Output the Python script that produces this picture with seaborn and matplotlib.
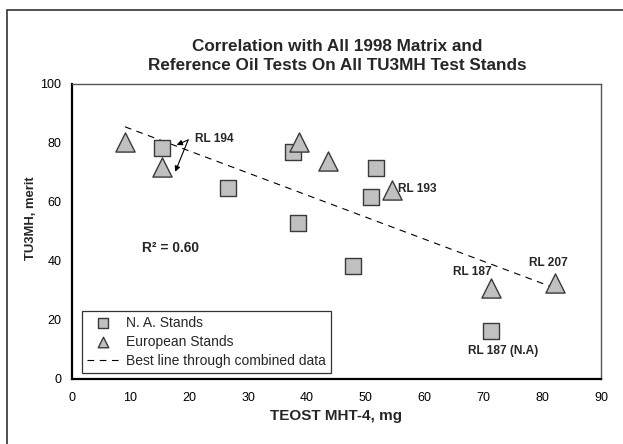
import matplotlib
matplotlib.use("Agg")
import matplotlib.pyplot as plt
import seaborn as sns
import pandas as pd
from matplotlib.patches import Rectangle

# Data
na_x = [15.3, 26.6, 37.7, 38.5, 47.9, 51.75, 50.85, 71.26]
na_y = [78.2, 64.6, 76.8, 52.7, 38.2, 71.4, 61.5, 16.2]
eu_x = [9.06, 15.4, 38.7, 43.6, 54.5, 71.26, 82.1]
eu_y = [80.4, 71.9, 80.2, 74.0, 64.0, 30.8, 32.5]

x_ticks = [0, 10, 20, 30, 40, 50, 60, 70, 80, 90]
y_ticks = [0, 20, 40, 60, 80, 100]

title = "Correlation with All 1998 Matrix and\nReference Oil Tests On All TU3MH Test Stands"
x_label = "TEOST MHT-4, mg"
y_label = "TU3MH, merit"

sns.set_style("white")
plt.rcParams['font.family'] = ['Liberation Sans', 'DejaVu Sans']

df = pd.DataFrame({
    "x": na_x + eu_x,
    "y": na_y + eu_y,
    "group": ["N. A. Stands"] * len(na_x) + ["European Stands"] * len(eu_x),
})

fig = plt.figure(figsize=(6.23, 4.44), dpi=100)
ax = fig.add_axes([71.7 / 623, 1 - 378.5 / 444, (601 - 71.7) / 623, (378.5 - 84) / 444])

fill = "#c0c0c0"
edge = "#3a3a3a"
sns.scatterplot(data=df[df.group == "N. A. Stands"], x="x", y="y", marker="s", s=145,
                color=fill, edgecolor=edge, linewidth=1.0, ax=ax, label="N. A. Stands", zorder=3)
sns.scatterplot(data=df[df.group == "European Stands"], x="x", y="y", marker="^", s=190,
                color=fill, edgecolor=edge, linewidth=1.0, ax=ax, label="European Stands", zorder=3)
sns.regplot(data=df, x="x", y="y", scatter=False, ci=None, ax=ax, truncate=True,
            line_kws=dict(color="black", lw=0.8, ls=(0, (6, 5)), zorder=2),
            label="Best line through combined data")

ax.set_xlim(0, 90)
ax.set_ylim(0, 100)
ax.set_xticks(x_ticks)
ax.set_yticks(y_ticks)
ax.tick_params(axis="both", direction="inout", length=7, width=1, labelsize=9, colors="black", pad=4)
ax.tick_params(axis="x", pad=6)
for side in ["top", "right"]:
    ax.spines[side].set_color("#555555")
    ax.spines[side].set_linewidth(1.0)
for side in ["left", "bottom"]:
    ax.spines[side].set_color("black")
    ax.spines[side].set_linewidth(1.6)

ax.set_xlabel(x_label, fontsize=11, fontweight="bold", labelpad=4)
ax.set_ylabel(y_label, fontsize=9.4, fontweight="bold")
ax.yaxis.set_label_coords((36.7 - 71.7) / 529.3, 0.545)
fig.text(337 / 623, 1 - 56 / 444, title, ha="center", va="center", fontsize=12.3,
         fontweight="bold", linespacing=1.4)

handles, labels = ax.get_legend_handles_labels()
leg = ax.legend(handles, labels, loc="lower left", bbox_to_anchor=(0.02, 0.02), fontsize=10,
                frameon=True, fancybox=False, edgecolor="black", borderpad=0.35,
                handlelength=2.3, handletextpad=0.5, labelspacing=0.35, borderaxespad=0,
                markerscale=0.55)
leg.get_frame().set_linewidth(0.9)

bold = dict(fontsize=8.6, fontweight="bold")
arrow = dict(arrowstyle="-|>", color="black", lw=0.8, mutation_scale=8, shrinkA=0, shrinkB=0)
ax.text(21.0, 81.3, "RL 194", ha="left", va="center", **bold)
ax.annotate("", xy=(17.85, 79.3), xytext=(19.8, 81.0), arrowprops=arrow)
ax.annotate("", xy=(17.6, 70.2), xytext=(19.8, 81.0), arrowprops=arrow)
ax.text(55.5, 64.3, "RL 193", ha="left", va="center", **bold)
ax.text(68.1, 36.3, "RL 187", ha="center", va="center", **bold)
ax.text(81.05, 39.1, "RL 207", ha="center", va="center", **bold)
ax.text(73.3, 9.4, "RL 187 (N.A)", ha="center", va="center", **bold)
ax.text(12.0, 44.2, "R² = 0.60", ha="left", va="center", fontsize=9.9, fontweight="bold")

fig.patches.append(Rectangle((7 / 623, -0.05), 1.1, 1 - 10 / 444 + 0.05, transform=fig.transFigure,
                             fill=False, edgecolor="#333333", linewidth=1.2, figure=fig))

fig.savefig("out.png", dpi=100)
